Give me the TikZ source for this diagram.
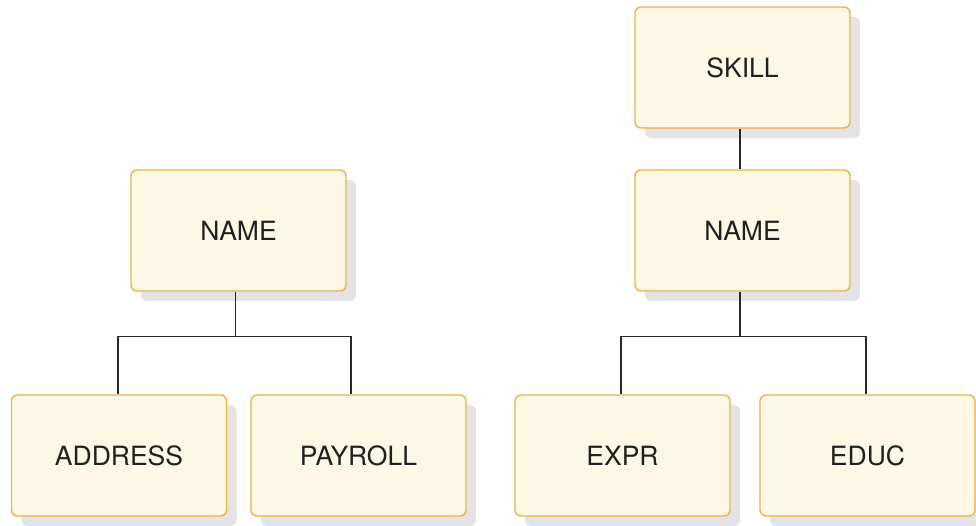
\documentclass[tikz,border=0pt]{standalone}
\usepackage{fontspec}
\setmainfont{TeX Gyre Heros}
\usetikzlibrary{shadows, positioning}
\definecolor{boxfill}{RGB}{253, 247, 229}
\definecolor{boxedge}{RGB}{240, 176, 72}
\definecolor{shadowgray}{RGB}{228, 228, 231}
\definecolor{textdark}{RGB}{35, 31, 32}
\definecolor{linegray}{RGB}{40, 40, 40}
\tikzset{
  segbox/.style={draw=boxedge, fill=boxfill, line width=1.4pt, rounded corners=6pt,
    minimum width=215pt, minimum height=121pt, text=textdark,
    font=\fontsize{26.5}{30}\selectfont,
    drop shadow={shadow xshift=10pt, shadow yshift=-10pt, fill=shadowgray, opacity=1}},
  link/.style={draw=linegray, line width=1.3pt}
}

\begin{document}
\begin{tikzpicture}[x=1pt, y=1pt]
  \useasboundingbox (0, 0) rectangle (976, -525);

  % left tree
  \node[segbox] (nameL) at (238.5, -230.5) {NAME};
  \node[segbox] (address) at (119, -455.5) {ADDRESS};
  \node[segbox] (payroll) at (358.5, -455.5) {PAYROLL};

  % right tree
  \node[segbox] (skill) at (742.5, -67.5) {SKILL};
  \node[segbox] (nameR) at (742.5, -230.5) {NAME};
  \node[segbox] (expr) at (622.5, -455.5) {EXPR};
  \node[segbox] (educ) at (867.5, -455.5) {EDUC};

  \draw[link] ([xshift=-3pt]nameL.south) -- ++(0, -45) coordinate (forkL);
  \draw[link] (forkL) -| ([xshift=-1pt]address.north);
  \draw[link] (forkL) -| ([xshift=-7.5pt]payroll.north);

  \draw[link] ([xshift=-2.5pt]skill.south) -- ([xshift=-2.5pt]nameR.north);
  \draw[link] ([xshift=-2.5pt]nameR.south) -- ++(0, -45) coordinate (forkR);
  \draw[link] (forkR) -| ([xshift=-1.5pt]expr.north);
  \draw[link] (forkR) -| ([xshift=-1.5pt]educ.north);
\end{tikzpicture}
\end{document}
